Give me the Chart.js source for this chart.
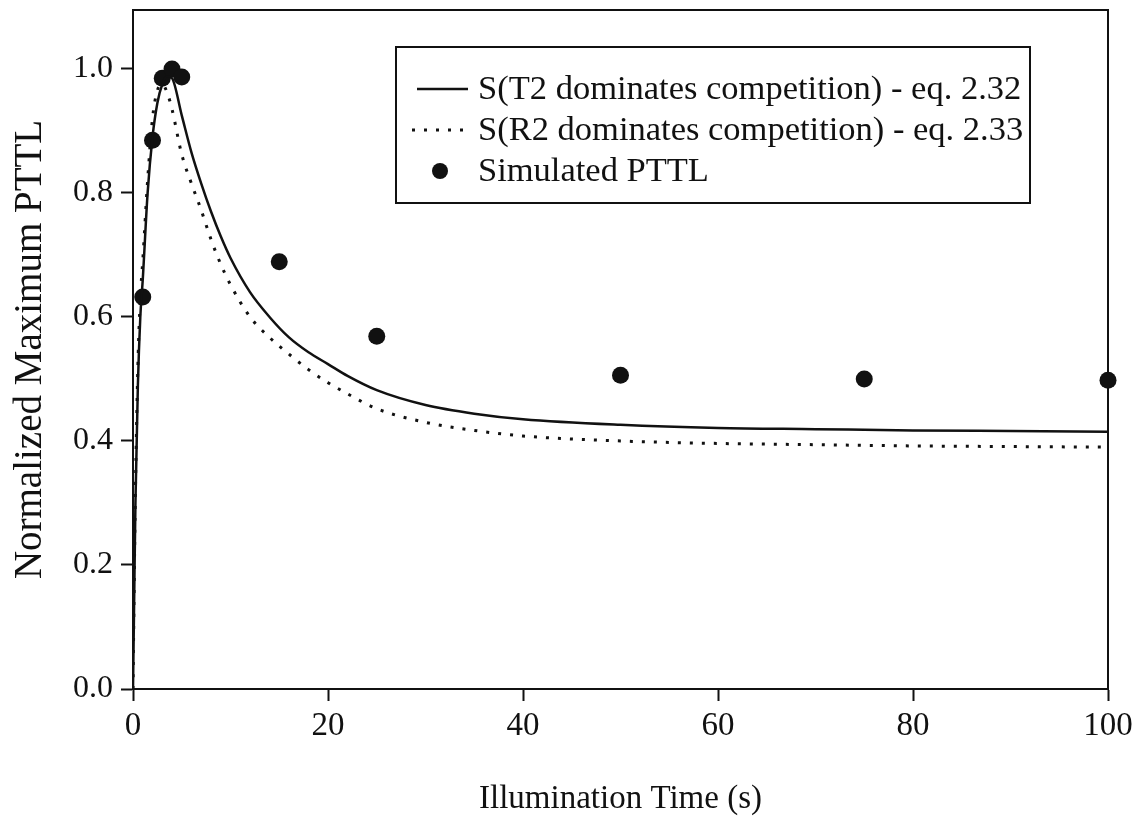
<!DOCTYPE html>
<html>
<head>
<meta charset="utf-8">
<script src="https://cdn.jsdelivr.net/npm/chart.js@4/dist/chart.umd.min.js"></script>
<style>
  html, body { margin: 0; padding: 0; background: #fff; }
  #wrap { width: 1139px; height: 817px; }
</style>
</head>
<body>
<div id="wrap"><canvas id="c" width="1139" height="817"></canvas></div>
<script>
// Illumination times (s) at which both model curves are tabulated
const timeGrid = [0, 0.1, 0.25, 0.5, 0.75, 1, 1.5, 2, 2.5, 3, 3.5, 4, 5, 6, 7, 8, 9, 10, 12, 14, 16, 18, 20, 22, 25, 30, 35, 40, 50, 60, 70, 80, 90, 100];
// S when T2 dominates competition (eq. 2.32)
const sT2 = [0, 0.12, 0.30, 0.49, 0.60, 0.66, 0.80, 0.89, 0.945, 0.975, 0.988, 0.985, 0.925, 0.865, 0.815, 0.77, 0.73, 0.695, 0.64, 0.60, 0.567, 0.543, 0.524, 0.505, 0.482, 0.458, 0.444, 0.435, 0.426, 0.421, 0.419, 0.417, 0.416, 0.415];
// S when R2 dominates competition (eq. 2.33)
const sR2 = [0, 0.14, 0.32, 0.52, 0.63, 0.69, 0.82, 0.92, 0.965, 0.975, 0.962, 0.935, 0.862, 0.815, 0.772, 0.725, 0.685, 0.652, 0.60, 0.567, 0.54, 0.515, 0.494, 0.476, 0.452, 0.43, 0.417, 0.408, 0.40, 0.396, 0.394, 0.392, 0.391, 0.39];
// Simulated PTTL maxima
const simTimes = [1, 2, 3, 4, 5, 15, 25, 50, 75, 100];
const simVals = [0.632, 0.885, 0.985, 1.0, 0.987, 0.689, 0.569, 0.506, 0.50, 0.498];

const xTicks = [0, 20, 40, 60, 80, 100];
const yTicks = [0.0, 0.2, 0.4, 0.6, 0.8, 1.0];

const seriesLabels = [
  'S(T2 dominates competition) - eq. 2.32',
  'S(R2 dominates competition) - eq. 2.33',
  'Simulated PTTL'
];

const SERIF = '"Liberation Serif", "DejaVu Serif", serif';
const INK = '#111';

const toXY = (xs, ys) => xs.map((x, i) => ({ x: x, y: ys[i] }));

// Box around the plotting area
const frame = {
  id: 'frame',
  beforeDatasetsDraw(chart) {
    const { ctx, chartArea: a } = chart;
    ctx.save();
    ctx.strokeStyle = INK;
    ctx.lineWidth = 2;
    ctx.strokeRect(a.left, a.top, a.right - a.left, a.bottom - a.top);
    ctx.restore();
  }
};

// Boxed legend inside the plot, built from the dataset styles
const boxLegend = {
  id: 'boxLegend',
  afterDraw(chart) {
    const { ctx } = chart;
    const bx = 396, by = 47, bw = 634, bh = 156;
    ctx.save();
    ctx.fillStyle = '#fff';
    ctx.fillRect(bx, by, bw, bh);
    ctx.strokeStyle = INK;
    ctx.lineWidth = 2;
    ctx.strokeRect(bx, by, bw, bh);
    const rows = [89, 130, 171];
    ctx.font = '34.5px ' + SERIF;
    ctx.textBaseline = 'middle';
    ctx.textAlign = 'left';
    chart.data.datasets.forEach((ds, i) => {
      const y = rows[i];
      ctx.strokeStyle = INK;
      ctx.fillStyle = INK;
      if (i === 2) {
        ctx.beginPath();
        ctx.arc(440, y, 8, 0, Math.PI * 2);
        ctx.fill();
      } else {
        ctx.lineWidth = ds.borderWidth;
        ctx.setLineDash(ds.borderDash || []);
        ctx.beginPath();
        ctx.moveTo(i === 1 ? 412 : 417, y);
        ctx.lineTo(468, y);
        ctx.stroke();
        ctx.setLineDash([]);
      }
      ctx.fillText(ds.label, 478, y + 1);
    });
    ctx.restore();
  }
};

new Chart(document.getElementById('c'), {
  type: 'scatter',
  data: {
    datasets: [
      {
        label: seriesLabels[0],
        data: toXY(timeGrid, sT2),
        showLine: true,
        borderColor: INK,
        borderWidth: 2.5,
        pointRadius: 0,
        cubicInterpolationMode: 'monotone'
      },
      {
        label: seriesLabels[1],
        data: toXY(timeGrid, sR2),
        showLine: true,
        borderColor: INK,
        borderWidth: 3,
        borderDash: [3, 9],
        pointRadius: 0,
        cubicInterpolationMode: 'monotone'
      },
      {
        label: seriesLabels[2],
        data: toXY(simTimes, simVals),
        showLine: false,
        pointRadius: 8.5,
        pointBackgroundColor: INK,
        pointBorderColor: INK,
        pointBorderWidth: 0,
        clip: false
      }
    ]
  },
  options: {
    responsive: false,
    animation: false,
    layout: { padding: { top: 10, right: 31, left: 0, bottom: 0 } },
    plugins: {
      legend: { display: false },
      tooltip: { enabled: false }
    },
    scales: {
      x: {
        type: 'linear',
        min: 0,
        max: 100,
        afterFit(s) { s.height = 128; s.paddingLeft = 0; s.paddingRight = 0; },
        afterBuildTicks(s) { s.ticks = xTicks.map(v => ({ value: v })); },
        grid: { drawOnChartArea: false, drawTicks: true, tickLength: 12, tickColor: INK, tickWidth: 2 },
        border: { display: true, color: INK, width: 2 },
        ticks: {
          color: INK,
          font: { family: SERIF, size: 33 },
          padding: 6,
          maxRotation: 0,
          callback: v => String(v)
        },
        title: {
          display: true,
          text: 'Illumination Time (s)',
          color: INK,
          font: { family: SERIF, size: 33, lineHeight: 1.0 },
          padding: { top: 0, bottom: 1 }
        }
      },
      y: {
        type: 'linear',
        min: 0,
        max: 1.095,
        afterFit(s) { s.width = 133; s.paddingTop = 0; s.paddingBottom = 0; },
        afterBuildTicks(s) { s.ticks = yTicks.map(v => ({ value: v })); },
        grid: { drawOnChartArea: false, drawTicks: true, tickLength: 12, tickColor: INK, tickWidth: 2 },
        border: { display: true, color: INK, width: 2 },
        ticks: {
          color: INK,
          font: { family: SERIF, size: 32 },
          padding: 8,
          callback: v => Number(v).toFixed(1)
        },
        title: {
          display: true,
          text: 'Normalized Maximum PTTL',
          color: INK,
          font: { family: SERIF, size: 39 },
          padding: { top: 7, bottom: 0 }
        }
      }
    }
  },
  plugins: [frame, boxLegend]
});
</script>
</body>
</html>
